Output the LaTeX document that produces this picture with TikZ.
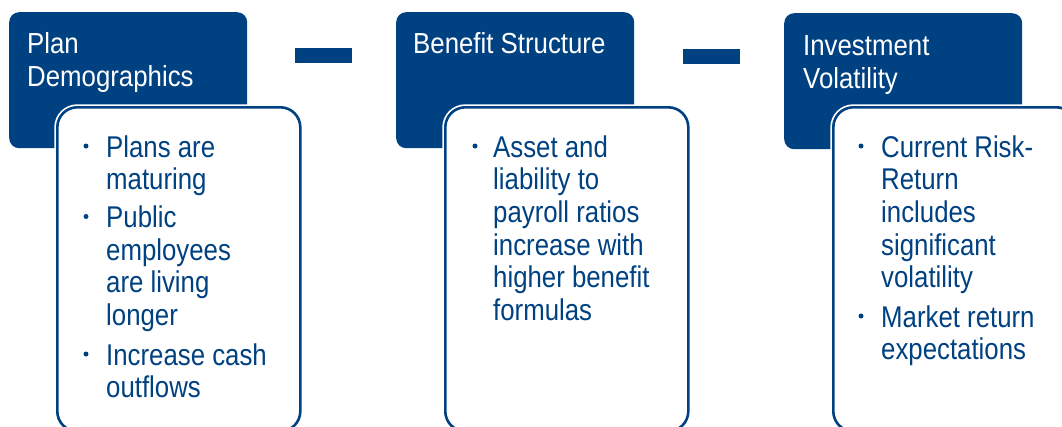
\documentclass[tikz,border=0pt]{standalone}
\usepackage{fontspec}
\setmainfont{Liberation Sans}
\newfontfamily\headfont[FakeStretch=0.89]{Liberation Sans}
\newfontfamily\bodyfont[FakeStretch=0.86]{Liberation Sans}
\definecolor{navy}{RGB}{0,65,130}
\begin{document}
\begin{tikzpicture}[x=1pt,y=-1pt,
  headbox/.style={fill=navy, rounded corners=10pt, minimum width=238pt, minimum height=136pt, anchor=north west, inner sep=0pt},
  bodybox/.style={draw=navy, line width=2.6pt, fill=white, rounded corners=20pt, minimum width=243pt, minimum height=324pt, anchor=north west, inner sep=0pt,
    preaction={draw=white, line width=6pt}},
  dashbar/.style={fill=navy, minimum width=57pt, minimum height=15pt, inner sep=0pt, anchor=north west},
  headtext/.style={anchor=base west, inner sep=0pt, text=white, font=\headfont\fontsize{29pt}{33pt}\selectfont},
  bodytext/.style={anchor=base west, inner sep=0pt, text=navy, font=\bodyfont\fontsize{30pt}{32.7pt}\selectfont},
  dot/.style={fill=navy}
]
\useasboundingbox (0,0) rectangle (1062,426);

% connectors (dashes)
\node[dashbar] (d1) at (295,48) {};
\node[dashbar] (d2) at (683,49) {};

% column 1
\node[headbox] (h1) at (9,12) {};
\node[bodybox] (b1) at (56,106) {};
\node[headtext] (ht1) at (27,53) {\parbox[t]{220pt}{Plan\\Demographics}};
\fill[dot] (86,146) circle (2.5);
\node[bodytext] (i11) at (106,157) {\parbox[t]{190pt}{Plans are\\maturing}};
\fill[dot] (86,216.5) circle (2.5);
\node[bodytext] (i12) at (106,227.5) {\parbox[t]{190pt}{Public\\employees\\are living\\longer}};
\fill[dot] (86,354) circle (2.5);
\node[bodytext] (i13) at (106,365) {\parbox[t]{190pt}{Increase cash\\outflows}};

% column 2
\node[headbox] (h2) at (396,12) {};
\node[bodybox] (b2) at (444,106) {};
\node[headtext] (ht2) at (413,53) {\parbox[t]{220pt}{Benefit Structure}};
\fill[dot] (475,146) circle (2.5);
\node[bodytext] (i21) at (493,157) {\parbox[t]{190pt}{Asset and\\liability to\\payroll ratios\\increase with\\higher benefit\\formulas}};

% column 3
\node[headbox] (h3) at (784,13) {};
\node[bodybox] (b3) at (832,106) {};
\node[headtext] (ht3) at (803,55) {\parbox[t]{220pt}{Investment\\Volatility}};
\fill[dot] (861,146) circle (2.5);
\node[bodytext] (i31) at (881,157) {\parbox[t]{190pt}{Current Risk-\\Return\\includes\\significant\\volatility}};
\fill[dot] (861,316) circle (2.5);
\node[bodytext] (i32) at (881,327) {\parbox[t]{190pt}{Market return\\expectations}};
\end{tikzpicture}
\end{document}
